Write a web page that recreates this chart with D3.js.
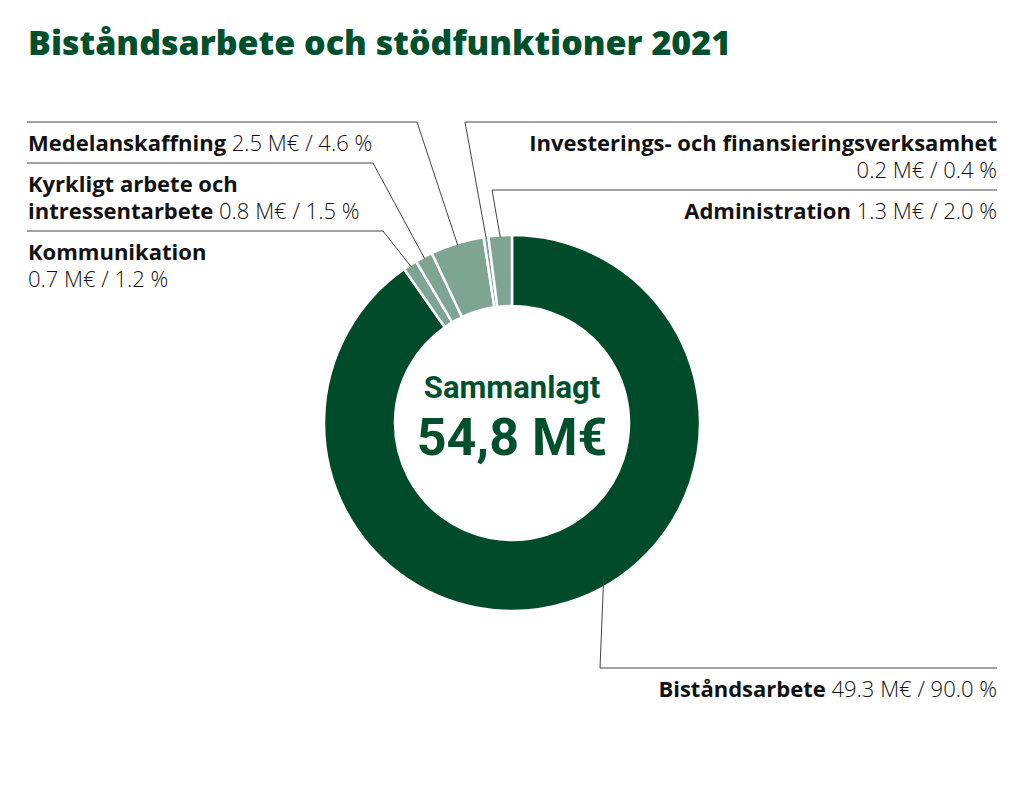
<!DOCTYPE html>
<html><head><meta charset="utf-8">
<script src="https://cdn.jsdelivr.net/npm/d3@7"></script>
<style>
body{margin:0;background:#fff;font-family:"Open Sans","Noto Sans",sans-serif}
</style></head><body>
<svg id="c" width="1024" height="792"></svg>
<script>
// Slices in drawing order, clockwise from 12 o'clock
const categories = ['Biståndsarbete', 'Kommunikation', 'Kyrkligt arbete och intressentarbete', 'Medelanskaffning', 'Investerings- och finansieringsverksamhet', 'Administration'];
const millions = [49.3, 0.7, 0.8, 2.5, 0.2, 1.3];
const percents = [90.0, 1.2, 1.5, 4.6, 0.4, 2.0];
const valueLabels = ['49.3 M€ / 90.0 %', '0.7 M€ / 1.2 %', '0.8 M€ / 1.5 %', '2.5 M€ / 4.6 %', '0.2 M€ / 0.4 %', '1.3 M€ / 2.0 %'];

const dark = '#004b29', light = '#7ea592', green = '#00502d';
const cx = 512, cy = 423, R = 188, r = 117;

const svg = d3.select('#c');
svg.append('text').attr('x', 28).attr('y', 55)
  .attr('font-size', 34).attr('font-weight', 800).attr('fill', green)
  .text('Biståndsarbete och stödfunktioner 2021');

const data = categories.map((c, i) => ({ name: c, pct: percents[i], m: millions[i], label: valueLabels[i] }));
const pie = d3.pie().sort(null).value(d => d.pct);
const arcs = pie(data);
const arc = d3.arc().innerRadius(r).outerRadius(R);

const g = svg.append('g').attr('transform', `translate(${cx},${cy})`);
g.selectAll('path').data(arcs).enter().append('path')
  .attr('d', arc)
  .attr('fill', (d, i) => i === 0 ? dark : light)
  .attr('stroke', '#fff').attr('stroke-width', 2.5);

// label layout: rule y, rule x-range, elbow x, text lines
const layout = [
  { y: 668, x1: 600, x2: 997, ex: 600, anchor: 'end', tx: 997, lines: [[categories[0], valueLabels[0]]] },
  { y: 231, x1: 27, x2: 383, ex: 383, anchor: 'start', tx: 28, lines: [[categories[1], ''], ['', valueLabels[1]]] },
  { y: 163, x1: 27, x2: 373, ex: 373, anchor: 'start', tx: 28, lines: [['Kyrkligt arbete och', ''], ['intressentarbete', valueLabels[2]]] },
  { y: 122, x1: 27, x2: 417, ex: 417, anchor: 'start', tx: 28, lines: [[categories[3] + ' ', valueLabels[3]]] },
  { y: 122, x1: 465, x2: 997, ex: 465, anchor: 'end', tx: 997, lines: [[categories[4], ''], ['', valueLabels[4]]] },
  { y: 190, x1: 492, x2: 997, ex: 492, anchor: 'end', tx: 997, lines: [[categories[5], valueLabels[5]]] }
];

arcs.forEach((a, i) => {
  const L = layout[i];
  const mid = (a.startAngle + a.endAngle) / 2;
  const ang = i === 0 ? 2.6 : mid;
  const px = cx + Math.sin(ang) * (i === 0 ? R - 10 : R - 2);
  const py = cy - Math.cos(ang) * (i === 0 ? R - 10 : R - 2);
  svg.append('polyline')
    .attr('points', `${L.anchor === 'start' ? L.x1 : L.x2},${L.y} ${L.ex},${L.y} ${px},${py}`)
    .attr('fill', 'none').attr('stroke', '#444').attr('stroke-width', 1);
  L.lines.forEach((ln, k) => {
    const t = svg.append('text').attr('x', L.tx).attr('y', L.y + 29 + k * 27)
      .attr('text-anchor', L.anchor).attr('font-size', 22).attr('fill', '#111');
    if (ln[0]) t.append('tspan').attr('font-weight', 700).text(ln[0]);
    if (ln[1]) t.append('tspan').attr('font-weight', 300).text((ln[0] ? ' ' : '') + ln[1]);
  });
});

svg.append('text').attr('x', cx).attr('y', 398).attr('text-anchor', 'middle')
  .attr('font-family', 'Roboto').attr('font-weight', 700).attr('font-size', 31)
  .attr('fill', green).text('Sammanlagt');
svg.append('text').attr('x', cx).attr('y', 455).attr('text-anchor', 'middle')
  .attr('font-family', 'Roboto').attr('font-weight', 700).attr('font-size', 52)
  .attr('fill', green).text('54,8 M€');
</script></body></html>
